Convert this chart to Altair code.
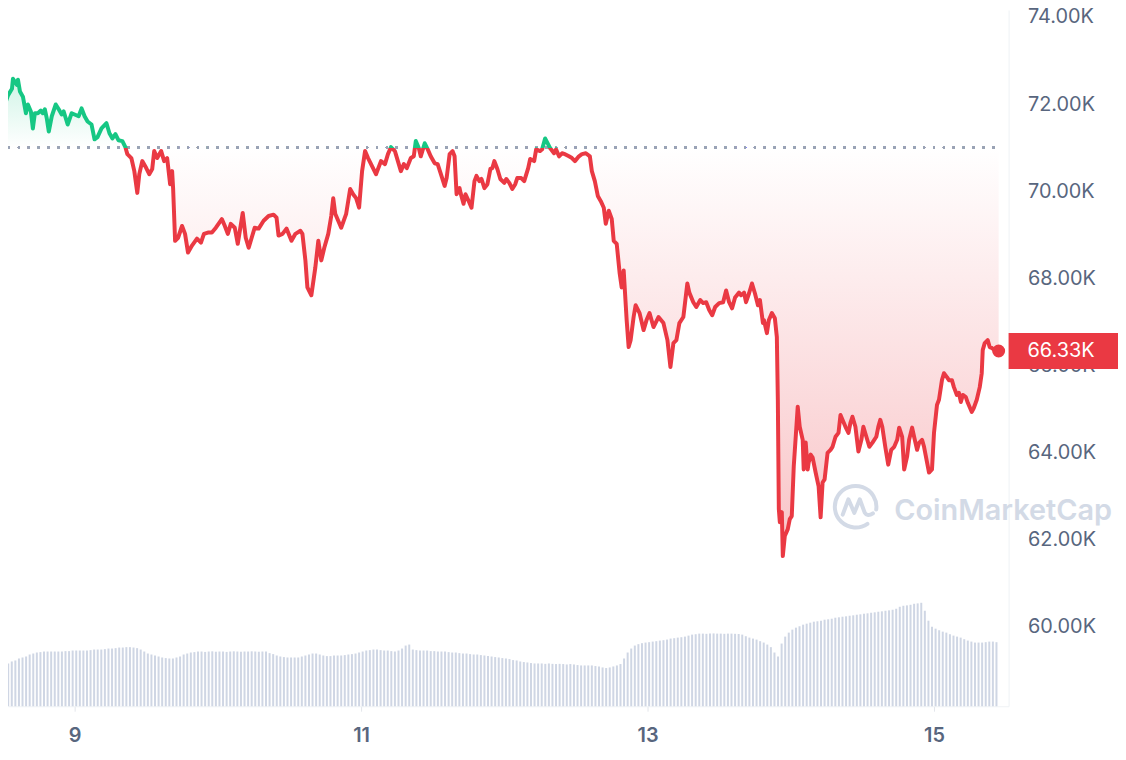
import altair as alt
import pandas as pd

# Time is counted in 10-minute steps from 8 Apr, 11:30 (step 0)
START_DAY = 8 + 11.5 / 24
STEPS_PER_DAY = 144

RED = "#ea3943"
GREEN = "#16c784"
BASE = 71.0  # opening price of the window (K USD)

price_step = [
    0, 2, 5, 8, 12, 13, 17, 18, 20, 23, 26, 28, 31, 33, 35, 38, 41, 43, 45, 47,
    49, 52, 56, 59, 62, 64, 68, 72, 75, 79, 82, 85, 88, 92, 95, 98, 102, 107, 110, 113,
    116, 119, 123, 126, 128, 132, 135, 138, 140, 143, 147, 150, 153, 155, 158, 162, 165, 168, 171, 173,
    174, 176, 179, 183, 186, 189, 193, 198, 202, 205, 209, 213, 217, 223, 226, 229, 232, 236, 239, 244,
    247, 250, 253, 256, 260, 265, 270, 275, 278, 280, 284, 288, 293, 297, 302, 304, 307, 309, 313, 317,
    320, 323, 326, 330, 333, 335, 337, 340, 343, 348, 352, 355, 358, 361, 364, 367, 370, 375, 378, 383,
    387, 390, 393, 397, 400, 403, 406, 409, 413, 416, 418, 421, 423, 427, 430, 433, 437, 440, 443, 447,
    449, 452, 455, 457, 459, 462, 463, 466, 468, 472, 474, 477, 479, 482, 484, 487, 490, 493, 495, 497,
    500, 503, 507, 509, 512, 515, 518, 520, 524, 527, 531, 533, 537, 539, 543, 545, 548, 551, 553, 557,
    559, 562, 565, 568, 572, 575, 578, 582, 585, 589, 593, 595, 598, 601, 604, 607, 609, 612, 615, 617,
    620, 623, 625, 627, 630, 632, 634, 637, 639, 643, 647, 650, 653, 657, 662, 667, 671, 674, 677, 680,
    683, 687, 691, 693, 697, 700, 704, 707, 710, 713, 716, 719, 723, 727, 730, 733, 736, 739, 743, 745,
    748, 750, 753, 756, 759, 762, 764, 767, 768, 771, 773, 776, 779, 781, 782, 783, 784, 786, 787, 789,
    792, 794, 796, 798, 802, 804, 807, 808, 810, 812, 813, 815, 817, 820, 823, 825, 827, 829, 832, 835,
    837, 840, 843, 845, 847, 850, 853, 855, 857, 860, 863, 866, 868, 871, 874, 877, 881, 883, 885, 887,
    890, 893, 896, 899, 902, 904, 907, 909, 912, 914, 917, 919, 922, 924, 927, 929, 932, 934, 937, 939,
    942, 944, 947, 949, 952, 954, 957, 959, 962, 964, 966, 968, 971, 973, 977, 979, 982, 985, 987, 988,
    990, 993, 995, 997, 1000, 1004,
]
price_k = [
    71.98, 72.24, 72.00, 72.20, 72.35, 72.58, 72.44, 72.56, 72.29, 72.17, 71.79, 71.99, 71.83, 71.44, 71.79, 71.79, 71.85, 71.79, 71.88, 71.67,
    71.37, 71.72, 71.99, 71.88, 71.76, 71.83, 71.53, 71.79, 71.76, 71.72, 71.90, 71.72, 71.60, 71.53, 71.19, 71.24, 71.44, 71.56, 71.33, 71.21,
    71.31, 71.17, 71.15, 71.01, 70.85, 70.76, 70.46, 69.96, 70.39, 70.69, 70.53, 70.39, 70.51, 70.92, 70.76, 70.92, 70.69, 70.76, 70.16, 70.46,
    70.07, 68.86, 68.93, 69.20, 69.02, 68.59, 68.75, 68.91, 68.82, 69.02, 69.05, 69.05, 69.16, 69.36, 69.20, 69.02, 69.25, 69.16, 68.79, 69.50,
    68.93, 68.70, 68.93, 69.16, 69.14, 69.32, 69.43, 69.46, 69.39, 68.98, 69.02, 69.14, 68.86, 69.02, 69.09, 69.02, 68.41, 67.79, 67.61, 68.25,
    68.86, 68.41, 68.70, 69.02, 69.43, 69.84, 69.48, 69.32, 69.16, 69.48, 70.05, 69.93, 69.84, 69.62, 70.46, 70.92, 70.76, 70.53, 70.39, 70.69,
    70.62, 70.85, 71.01, 70.92, 70.69, 70.46, 70.62, 70.53, 70.76, 70.80, 71.15, 70.99, 70.80, 71.10, 70.96, 70.80, 70.64, 70.62, 70.41, 70.12,
    70.30, 70.85, 70.92, 70.80, 69.93, 70.07, 69.96, 69.71, 69.93, 69.73, 69.62, 70.23, 70.35, 70.23, 70.28, 70.07, 70.16, 70.51, 70.53, 70.69,
    70.51, 70.28, 70.19, 70.28, 70.19, 70.05, 70.16, 70.30, 70.30, 70.23, 70.53, 70.74, 70.69, 70.96, 70.92, 70.96, 71.21, 71.08, 70.99, 70.87,
    70.96, 70.80, 70.87, 70.85, 70.80, 70.76, 70.69, 70.80, 70.85, 70.87, 70.80, 70.46, 70.23, 69.89, 69.77, 69.62, 69.25, 69.55, 69.36, 68.86,
    68.79, 68.11, 67.79, 68.18, 67.04, 66.42, 66.58, 67.11, 67.38, 67.20, 66.81, 67.04, 67.20, 66.88, 67.11, 66.97, 66.58, 65.96, 66.51, 66.58,
    66.97, 67.11, 67.88, 67.67, 67.45, 67.34, 67.50, 67.43, 67.45, 67.27, 67.15, 67.34, 67.43, 67.45, 67.72, 67.45, 67.31, 67.56, 67.67, 67.61,
    67.67, 67.45, 67.65, 67.88, 67.65, 67.38, 67.50, 66.97, 67.04, 66.74, 67.04, 67.20, 67.08, 66.65, 65.21, 62.70, 62.40, 62.63, 61.62, 62.08,
    62.24, 62.47, 62.54, 63.68, 65.05, 64.59, 64.29, 63.61, 64.23, 63.61, 63.77, 63.95, 63.88, 63.54, 63.22, 62.51, 63.31, 63.38, 63.99, 64.06,
    64.13, 64.36, 64.45, 64.86, 64.75, 64.59, 64.45, 64.68, 64.82, 64.59, 64.02, 64.29, 64.59, 64.36, 64.13, 64.22, 64.36, 64.59, 64.75, 64.59,
    64.13, 63.72, 64.06, 64.13, 64.29, 64.57, 64.36, 63.61, 63.91, 64.29, 64.57, 64.36, 64.06, 64.22, 64.29, 64.13, 63.77, 63.54, 63.61, 64.45,
    65.09, 65.21, 65.66, 65.82, 65.73, 65.66, 65.66, 65.50, 65.32, 65.37, 65.16, 65.32, 65.27, 65.14, 64.93, 65.02, 65.21, 65.50, 65.82, 66.35,
    66.51, 66.58, 66.42, 66.40, 66.35, 66.33,
]

# 24h volume (billion USD), one bar every 36 minutes starting at step 1
VOL_FIRST_STEP = 1
VOL_EVERY_STEPS = 3.6
vol_b = [
    20.5, 21, 21.5, 22.5, 23, 24, 24.5, 25, 26, 26.5,
    27, 27.2, 27.5, 27.5, 27.5, 27.5, 27.5, 27.5, 27.7, 27.7,
    28, 28, 28, 28, 28, 28.2, 28.5, 28.5, 28.5, 28.7,
    29, 29, 29.2, 29.5, 29.5, 29.7, 29.7, 29.5, 29.2, 28.5,
    27.5, 26.5, 26, 25.5, 25, 24.5, 24.2, 24, 24, 24.5,
    25, 26, 26.5, 27, 27.2, 27.5, 27.5, 27.3, 27.5, 27.6,
    27.4, 27.5, 27.5, 27.3, 27.5, 27.6, 27.5, 27.4, 27.5, 27.5,
    27.6, 27.5, 27.4, 27.5, 27.5, 26.7, 26.2, 25.5, 25, 24.7,
    24.5, 24.5, 24.5, 24.5, 25, 25.5, 26, 26.5, 26.5, 26,
    25.5, 25.2, 25.2, 25.5, 25.5, 25.5, 25.7, 26, 26.2, 26.5,
    27, 27.5, 28, 28.2, 28.5, 28.5, 28.2, 28, 28, 27.7,
    27.5, 28, 29, 30.5, 31, 28.5, 28.2, 28, 28, 28,
    27.7, 27.7, 27.5, 27.5, 27.5, 27.2, 27, 27, 26.7, 26.5,
    26.5, 26.2, 26, 26, 25.7, 25.5, 25.2, 25, 24.7, 24.5,
    24.2, 24, 23.7, 23.2, 23, 22.5, 22.2, 22, 21.7, 21.5,
    21.5, 21.5, 21.3, 21.5, 21.3, 21.2, 21.3, 21.2, 21, 21.2,
    21, 20.7, 20.5, 20.5, 20.5, 20.5, 20.2, 20, 19.5, 19.2,
    19.5, 20, 20.5, 21.2, 24, 27, 29, 30.5, 31.2, 31.7,
    32, 32.2, 32.5, 32.7, 33, 33.2, 33.5, 34, 34.2, 34.5,
    34.7, 35, 35.5, 36, 36.2, 36.5, 36.5, 36.4, 36.5, 36.6,
    36.5, 36.5, 36.4, 36.5, 36.5, 36.4, 36.3, 36, 35.2, 34.5,
    34, 33.5, 32.7, 32, 31, 29.7, 27, 25, 31.5, 35,
    37, 38.5, 39.5, 40.2, 41, 41.5, 42, 42.5, 42.7, 43,
    43.5, 43.7, 44, 44.5, 44.7, 45, 45.2, 45.5, 45.7, 46,
    46.2, 46.5, 46.7, 47, 47.2, 47.5, 47.7, 48, 48.2, 48.5,
    49, 50, 50.5, 50.7, 51, 51.5, 51.7, 52, 48, 43,
    40, 39, 38.2, 37.5, 37, 36.2, 35.5, 35, 34.5, 33.7,
    33, 32.5, 32, 32, 32, 32.2, 32.5, 32.5, 32.2,
]

x_tick_days = [9, 11, 13, 15]
y_ticks_k = [60, 62, 64, 66, 68, 70, 72, 74]

# ---------------------------------------------------------------- tables
df = pd.DataFrame({
    "day": [START_DAY + s / STEPS_PER_DAY for s in price_step],
    "price": price_k,
})
vdf = pd.DataFrame({
    "day": [START_DAY + (VOL_FIRST_STEP + VOL_EVERY_STEPS * i) / STEPS_PER_DAY for i in range(len(vol_b))],
    "vol": vol_b,
})
last = df.iloc[[-1]].copy()
last["label"] = [f"{v:.2f}K" for v in last["price"]]

W, H = 1006, 700
x_dom = [START_DAY + 8 / STEPS_PER_DAY, START_DAY + 1014 / STEPS_PER_DAY]
xs = alt.Scale(domain=x_dom, nice=False, zero=False)
ys = alt.Scale(domain=[58.173, 74.16], nice=False, zero=False)

pmax, pmin = max(price_k), min(price_k)
f = (pmax - BASE) / (pmax - pmin)

stroke_grad = alt.LinearGradient(
    gradient="linear", x1=0, x2=0, y1=0, y2=1,
    stops=[
        alt.GradientStop(offset=0, color=GREEN),
        alt.GradientStop(offset=f, color=GREEN),
        alt.GradientStop(offset=f, color=RED),
        alt.GradientStop(offset=1, color=RED),
    ],
)
fill_grad = alt.LinearGradient(
    gradient="linear", x1=0, x2=0, y1=0, y2=1,
    stops=[
        alt.GradientStop(offset=0, color="rgba(22,199,132,0.20)"),
        alt.GradientStop(offset=f, color="rgba(22,199,132,0.0)"),
        alt.GradientStop(offset=f, color="rgba(234,57,67,0.0)"),
        alt.GradientStop(offset=1, color="rgba(234,57,67,0.30)"),
    ],
)

x_axis = alt.Axis(values=x_tick_days, format="d", title=None, grid=False)
X = alt.X("day:Q", scale=xs, axis=x_axis)

vol_layer = alt.Chart(vdf).mark_rule(strokeWidth=2, color="#cfd6e4").encode(
    x=X,
    y=alt.Y("vol:Q", scale=alt.Scale(domain=[0, 350], nice=False), axis=None),
    y2=alt.datum(0),
)

y_axis = alt.Axis(
    orient="right", values=y_ticks_k, title=None,
    labelExpr="format(datum.value, '.2f') + 'K'",
)
Y = alt.Y("price:Q", scale=ys, axis=y_axis)

water_src = pd.DataFrame({"n": [0]})
logo_path = ("M 0.55 0.8 A 0.95 0.95 0 1 1 0.95 0.15 "
             "M -0.58 0.38 L -0.32 -0.32 L -0.05 0.3 L 0.2 -0.32 L 0.42 0.28 Q 0.55 0.5 0.8 0.32")
logo = alt.Chart(water_src).mark_point(
    shape=logo_path, filled=False, size=1936, strokeWidth=4, color="#d3dae6", opacity=1,
    strokeCap="round", strokeJoin="round",
).encode(x=alt.value(852), y=alt.value(499))
water_text = alt.Chart(water_src).mark_text(
    text="CoinMarketCap", font="Inter", fontSize=29, fontWeight=600, color="#d3dae6",
    align="left", baseline="middle",
).encode(x=alt.value(891), y=alt.value(504))

area = alt.Chart(df).mark_area(clip=True, fill=fill_grad).encode(
    x=X, y=Y, y2=alt.datum(BASE)
)
base_rule = alt.Chart(df).mark_rule(
    strokeDash=[2, 8], color="#9aa3b5", strokeWidth=2
).encode(
    x=alt.datum(x_dom[0]), x2=alt.datum(float(df["day"].iloc[-1])), y=alt.datum(BASE)
)
line = alt.Chart(df).mark_line(
    clip=True, stroke=stroke_grad, strokeWidth=4, strokeJoin="round", strokeCap="round"
).encode(x=X, y=Y)
dot = alt.Chart(last).mark_circle(size=170, color=RED, opacity=1).encode(x=X, y=Y)
tag_box = alt.Chart(last).mark_rect(color=RED, yOffset=-18, y2Offset=18).encode(
    x=alt.value(W), x2=alt.value(W + 110), y=Y, y2=alt.Y2("price:Q")
)
tag_text = alt.Chart(last).mark_text(
    align="left", baseline="middle", color="white", font="Inter", fontSize=20
).encode(x=alt.value(W + 19), y=Y, text="label:N")

price_group = alt.layer(logo, water_text, area, base_rule, line, dot, tag_box, tag_text)

chart = (
    alt.layer(vol_layer, price_group)
    .resolve_scale(y="independent")
    .properties(
        width=W, height=H,
        autosize=alt.AutoSizeParams(type="none"),
        padding={"left": 0, "top": 0, "right": 110, "bottom": 40},
        background="white",
    )
    .configure_view(stroke=None)
    .configure_axisX(
        domainColor="#eff2f5", tickColor="#e3e6eb", tickSize=5,
        labelFont="Inter", labelFontSize=20, labelFontWeight=600,
        labelColor="#58667e", labelPadding=14,
    )
    .configure_axisY(
        grid=True, gridColor="#eff2f5", domain=True, domainColor="#eff2f5",
        ticks=False, tickSize=0, labelPadding=19,
        labelFont="Inter", labelFontSize=20, labelColor="#58667e",
    )
)

chart.save("out.html", embed_options={"renderer": "svg", "actions": False})
